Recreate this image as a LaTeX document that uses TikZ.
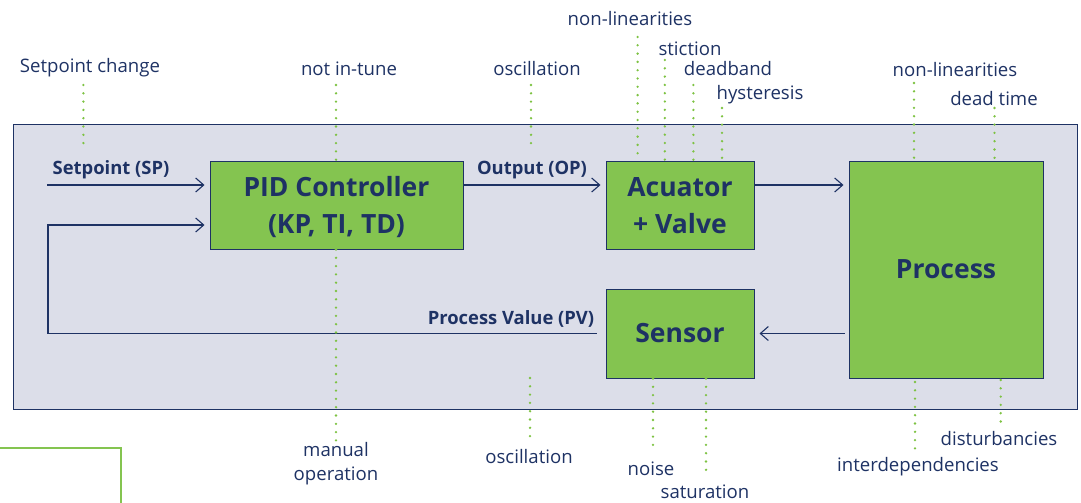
\documentclass[tikz,border=0pt]{standalone}
\usepackage{fontspec}
\setmainfont{Open Sans}
\usetikzlibrary{arrows.meta,calc}
\definecolor{navy}{HTML}{1E3264}
\definecolor{boxgreen}{HTML}{84C450}
\definecolor{dotgreen}{HTML}{7DC242}
\definecolor{panel}{HTML}{DCDEE9}
\newcommand{\lowtxt}[2]{\raisebox{#1}[\height][\depth]{\begin{tabular}{@{}c@{}}#2\end{tabular}}}
\tikzset{
  blk/.style={draw=navy, fill=boxgreen, line width=1pt, text=navy, font=\fontsize{26.5}{37}\selectfont\bfseries, inner sep=0pt},
  lbl/.style={text=navy, font=\fontsize{18.6}{24}\selectfont, inner sep=0pt, align=center},
  blbl/.style={text=navy, font=\fontsize{18.4}{20}\selectfont\bfseries, inner sep=0pt},
  arr/.style={draw=navy, line width=1.1pt, -{Straight Barb[length=8pt,width=14pt,line width=1.1pt]}},
  dotl/.style={draw=dotgreen, line width=2.6pt, line cap=round, dash pattern=on 0pt off 8.3pt},
}
\begin{document}
\begin{tikzpicture}[x=1pt,y=-1pt]
\useasboundingbox (0,0) rectangle (1081,503);
% outer partial green frame
\draw[draw=boxgreen, line width=1.2pt] (0,448) -- (121,448) -- (121,504);
% panel
\node[draw=navy, fill=panel, line width=1pt, minimum width=1064pt, minimum height=285pt, inner sep=0pt] (panel) at (545,266.5) {};
% blocks
\node[blk, minimum width=253pt, minimum height=88pt] (pid) at (336.5,205) {\lowtxt{-3pt}{PID Controller\\(KP, TI, TD)}};
\node[blk, minimum width=148pt, minimum height=88pt] (act) at (680,205) {\lowtxt{-3pt}{Acuator\\+ Valve}};
\node[blk, minimum width=194pt, minimum height=217pt] (proc) at (946,269.5) {\lowtxt{-2pt}{Process}};
\node[blk, minimum width=148pt, minimum height=89pt] (sens) at (680,333.5) {\lowtxt{-2pt}{Sensor}};
% helper coordinates
\coordinate (yA) at (0,185);
\coordinate (yB) at (0,225);
\coordinate (spin) at (47,185);
\coordinate (fbc) at (48,225);
% connectors
\draw[arr, shorten >=5pt] (spin) -- (pid.west |- yA);
\draw[arr, shorten >=5pt] (pid.east |- yA) -- (act.west |- yA);
\draw[arr, shorten >=5pt] (act.east |- yA) -- (proc.west |- yA);
\draw[arr, shorten <=4pt, shorten >=5pt] (proc.west |- sens) -- (sens.east);
\draw[arr, shorten <=9pt, shorten >=5pt] (sens.west) -| (fbc) -- (pid.west |- yB);
% signal labels
\node[blbl] (lsp) at (111,170) {Setpoint (SP)};
\node[blbl] (lop) at (532,170) {Output (OP)};
\node[blbl] (lpv) at (511,319) {Process Value (PV)};
% top annotations
\node[lbl] (t1) at (90,68) {Setpoint change};
\node[lbl] (t2) at (349,69) {not in-tune};
\node[lbl] (t3) at (537,69) {oscillation};
\node[lbl] (t4) at (630,19) {non-linearities};
\node[lbl] (t5) at (690,49) {stiction};
\node[lbl] (t6) at (728,69) {deadband};
\node[lbl] (t7) at (760,95) {hysteresis};
\node[lbl] (t8) at (955,70) {non-linearities};
\node[lbl] (t9) at (994,99) {dead time};
% bottom annotations
\node[lbl] (b1) at (336,464) {manual\\operation};
\node[lbl] (b2) at (529,457) {oscillation};
\node[lbl] (b3) at (651,469) {noise};
\node[lbl] (b4) at (705,492) {saturation};
\node[lbl] (b5) at (918,467) {interdependencies};
\node[lbl] (b6) at (999,439) {disturbancies};
% dotted leaders top
\coordinate (d1) at (83.4,85);   \coordinate (e1) at (83.4,148);
\coordinate (d2) at (336,85);
\coordinate (d3) at (531,85);    \coordinate (e3) at (531,148);
\coordinate (d4) at (637.6,37);
\coordinate (d5) at (664.8,60);
\coordinate (d6) at (693.4,85);
\coordinate (d7) at (722,108);
\coordinate (d8) at (914,83);
\coordinate (d9) at (994.5,108);
\draw[dotl] (d1) -- (e1);
\draw[dotl] (d2) -- (d2 |- pid.north);
\draw[dotl] (d3) -- (e3);
\draw[dotl] (d4) -- (d4 |- act.north);
\draw[dotl] (d5) -- (d5 |- act.north);
\draw[dotl] (d6) -- (d6 |- act.north);
\draw[dotl] (d7) -- (d7 |- act.north);
\draw[dotl] (d8) -- (d8 |- proc.north);
\draw[dotl] (d9) -- (d9 |- proc.north);
% dotted leaders bottom
\coordinate (f1) at (336,441);
\coordinate (f2) at (530,378);   \coordinate (g2) at (530,442);
\coordinate (f3) at (653,453);
\coordinate (f4) at (706,478);
\coordinate (f5) at (915,452);   \coordinate (g5) at (915,382);
\coordinate (f6) at (1000.7,423); \coordinate (g6) at (1000.7,380);
\draw[dotl] (pid.south -| f1) -- (f1);
\draw[dotl] (f2) -- (g2);
\draw[dotl] (sens.south -| f3) -- (f3);
\draw[dotl] (sens.south -| f4) -- (f4);
\draw[dotl] (g5) -- (f5);
\draw[dotl] (g6) -- (f6);
\end{tikzpicture}
\end{document}
